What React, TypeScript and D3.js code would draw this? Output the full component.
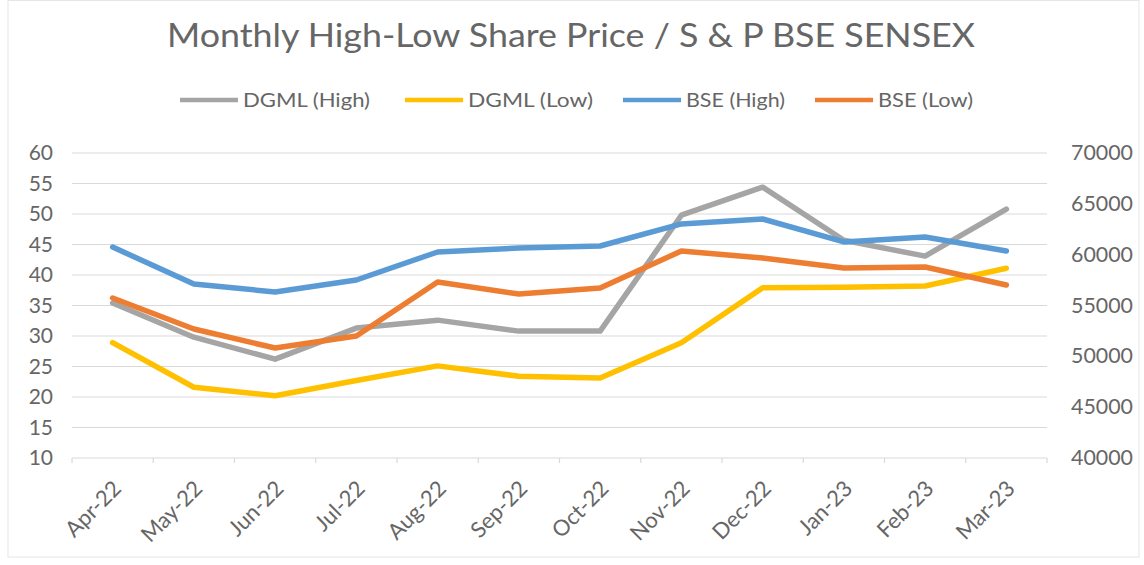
import React from "react";
import * as d3 from "d3";

const months = ["Apr-22","May-22","Jun-22","Jul-22","Aug-22","Sep-22","Oct-22","Nov-22","Dec-22","Jan-23","Feb-23","Mar-23"];
const dgmlHigh = [35.4, 29.8, 26.2, 31.3, 32.6, 30.8, 30.8, 49.8, 54.4, 45.7, 43.1, 50.8];
const dgmlLow = [28.9, 21.6, 20.2, 22.7, 25.1, 23.4, 23.1, 28.9, 37.9, 38.0, 38.2, 41.1];
const bseHigh = [60750, 57110, 56330, 57510, 60260, 60650, 60850, 63020, 63510, 61250, 61740, 60360];
const bseLow = [55740, 52690, 50820, 52000, 57310, 56130, 56720, 60360, 59670, 58690, 58790, 57020];
const leftTicks = [10, 15, 20, 25, 30, 35, 40, 45, 50, 55, 60];
const rightTicks = [40000, 45000, 50000, 55000, 60000, 65000, 70000];

const FONT = "Lato, 'Open Sans', sans-serif";
const TEXT = "#666666";

export default function App() {
  const W = 1144, H = 565;
  const x = d3.scaleBand<string>().domain(months).range([72, 1047]);
  const yL = d3.scaleLinear().domain([10, 60]).range([458, 153]);
  const yR = d3.scaleLinear().domain([40000, 70000]).range([458, 153]);
  const cx = (m: string) => (x(m) as number) + x.bandwidth() / 2;

  const lineL = d3.line<number>().x((_, i) => cx(months[i])).y(v => yL(v));
  const lineR = d3.line<number>().x((_, i) => cx(months[i])).y(v => yR(v));

  const series = [
    { name: "DGML (High)", color: "#A5A5A5", d: lineL(dgmlHigh) },
    { name: "DGML (Low)", color: "#FFC000", d: lineL(dgmlLow) },
    { name: "BSE (High)", color: "#5B9BD5", d: lineR(bseHigh) },
    { name: "BSE (Low)", color: "#ED7D31", d: lineR(bseLow) },
  ];
  const legendX = [180, 405, 623, 815];
  const legendW = [127, 125, 99, 95];

  const boundaries = months.map(m => x(m) as number).concat([1047]);

  return (
    <svg width={W} height={H} style={{ position: "absolute", left: 0, top: 0, background: "#fff" }} fontFamily={FONT}>
      <rect x={8} y={0.5} width={1131} height={556.5} fill="#fff" stroke="#e6e6e6" />
      <text x={167} y={47} fontSize={33} fill={TEXT} textLength={808} lengthAdjust="spacingAndGlyphs">
        Monthly High-Low Share Price / S &amp; P BSE SENSEX
      </text>
      {series.map((s, i) => (
        <g key={s.name}>
          <line x1={legendX[i]} x2={legendX[i] + 58} y1={100} y2={100} stroke={s.color} strokeWidth={4.5} />
          <text x={legendX[i] + 63} y={107} fontSize={20} fill={TEXT} textLength={legendW[i]} lengthAdjust="spacingAndGlyphs">{s.name}</text>
        </g>
      ))}
      {leftTicks.map(t => (
        <g key={t}>
          <line x1={72} x2={1047} y1={yL(t)} y2={yL(t)} stroke="#d9d9d9" strokeWidth={1.2} />
          <text x={53} y={yL(t) + 7} textAnchor="end" fontSize={21} fill={TEXT}>{t}</text>
        </g>
      ))}
      {rightTicks.map(t => (
        <text key={t} x={1071} y={yR(t) + 7} fontSize={21} fill={TEXT} textLength={62} lengthAdjust="spacingAndGlyphs">{t}</text>
      ))}
      {boundaries.map((b, i) => (
        <line key={i} x1={b} x2={b} y1={458} y2={463} stroke="#d9d9d9" strokeWidth={1.2} />
      ))}
      {months.map(m => (
        <text key={m} transform={`translate(${cx(m) + 10},${490}) rotate(-45)`} textAnchor="end" fontSize={22} fill={TEXT}>{m}</text>
      ))}
      {series.map((s, i) => (
        <path key={i} d={s.d || ""} fill="none" stroke={s.color} strokeWidth={5.5} strokeLinejoin="round" strokeLinecap="round" />
      ))}
    </svg>
  );
}
